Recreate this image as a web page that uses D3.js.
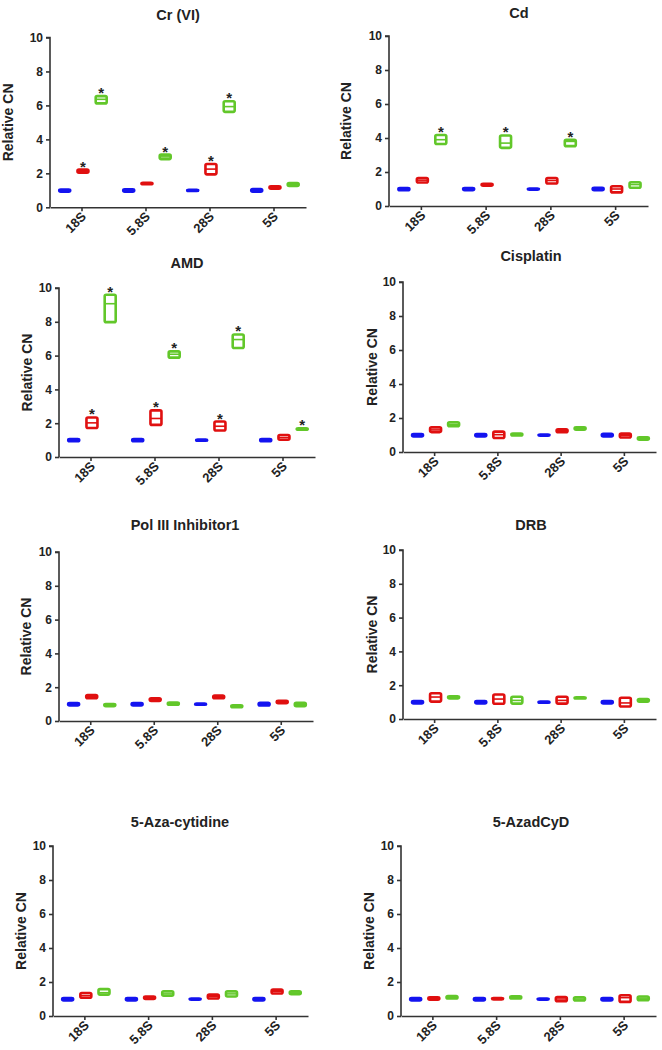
<!DOCTYPE html>
<html><head><meta charset="utf-8">
<script src="https://cdn.jsdelivr.net/npm/d3@7"></script>
<style>body{margin:0;background:#fff}svg{display:block}</style>
</head><body>
<svg id="c" width="662" height="1050"></svg>
<script>
// categories and series
const categories = ["18S", "5.8S", "28S", "5S"];
const series = ["Control", "Low", "High"];
const seriesColors = ["#1414f0", "#e01010", "#62c72a"];
const yTicks = [0, 2, 4, 6, 8, 10];
const titles = ["Cr (VI)", "Cd", "AMD", "Cisplatin", "Pol III Inhibitor1", "DRB", "5-Aza-cytidine", "5-AzadCyD"];

// values: per category, per series [min, median, max]
const crVI = [
  [[0.92, 1.0, 1.05], [2.04, 2.12, 2.22], [6.12, 6.36, 6.55]],
  [[0.92, 1.0, 1.06], [1.36, 1.40, 1.45], [2.84, 2.97, 3.10]],
  [[0.96, 1.0, 1.03], [1.94, 2.25, 2.55], [5.62, 5.93, 6.25]],
  [[0.92, 1.0, 1.08], [1.10, 1.17, 1.24], [1.26, 1.34, 1.43]]
];
const cd = [
  [[0.93, 1.0, 1.05], [1.38, 1.52, 1.65], [3.65, 3.90, 4.18]],
  [[0.93, 1.0, 1.06], [1.20, 1.25, 1.30], [3.42, 3.70, 4.15]],
  [[0.96, 1.0, 1.03], [1.32, 1.50, 1.65], [3.52, 3.80, 3.90]],
  [[0.93, 1.0, 1.07], [0.80, 1.00, 1.16], [1.07, 1.26, 1.40]]
];
const amd = [
  [[0.93, 1.0, 1.06], [1.72, 2.02, 2.34], [7.98, 9.07, 9.60]],
  [[0.93, 1.0, 1.06], [1.90, 2.28, 2.76], [5.88, 6.08, 6.25]],
  [[0.96, 1.0, 1.03], [1.57, 1.82, 2.10], [6.45, 6.95, 7.25]],
  [[0.93, 1.0, 1.06], [1.02, 1.15, 1.30], [1.61, 1.65, 1.70]]
];
const cisplatin = [
  [[0.92, 1.0, 1.06], [1.17, 1.30, 1.45], [1.52, 1.63, 1.75]],
  [[0.92, 1.0, 1.06], [0.82, 1.02, 1.20], [0.97, 1.02, 1.09]],
  [[0.96, 1.0, 1.03], [1.16, 1.25, 1.34], [1.31, 1.38, 1.45]],
  [[0.92, 1.0, 1.07], [0.85, 0.98, 1.08], [0.73, 0.80, 0.87]]
];
const polIII = [
  [[0.92, 1.0, 1.06], [1.35, 1.45, 1.54], [0.88, 0.95, 1.01]],
  [[0.92, 1.0, 1.06], [1.19, 1.28, 1.34], [0.96, 1.02, 1.09]],
  [[0.96, 1.0, 1.03], [1.35, 1.42, 1.50], [0.81, 0.88, 0.93]],
  [[0.92, 1.0, 1.07], [1.06, 1.12, 1.20], [0.87, 0.97, 1.08]]
];
const drb = [
  [[0.92, 1.0, 1.06], [1.03, 1.30, 1.52], [1.22, 1.28, 1.35]],
  [[0.92, 1.0, 1.06], [0.90, 1.18, 1.45], [0.91, 1.10, 1.32]],
  [[0.96, 1.0, 1.03], [0.91, 1.10, 1.32], [1.21, 1.25, 1.29]],
  [[0.92, 1.0, 1.06], [0.74, 0.95, 1.26], [1.03, 1.10, 1.18]]
];
const azaC = [
  [[0.92, 1.0, 1.06], [1.07, 1.20, 1.35], [1.26, 1.37, 1.58]],
  [[0.92, 1.0, 1.06], [1.01, 1.08, 1.15], [1.19, 1.30, 1.45]],
  [[0.96, 1.0, 1.03], [1.03, 1.15, 1.26], [1.15, 1.30, 1.45]],
  [[0.92, 1.0, 1.06], [1.32, 1.45, 1.55], [1.28, 1.36, 1.45]]
];
const azadCyD = [
  [[0.92, 1.0, 1.06], [0.96, 1.02, 1.10], [1.03, 1.10, 1.18]],
  [[0.92, 1.0, 1.06], [0.98, 1.01, 1.05], [1.03, 1.08, 1.16]],
  [[0.96, 1.0, 1.03], [0.87, 1.00, 1.12], [0.91, 1.00, 1.10]],
  [[0.92, 1.0, 1.06], [0.83, 1.08, 1.22], [0.93, 1.05, 1.15]]
];
// significance markers: [categoryIndex, seriesIndex]
const crVIStars = [[0, 1], [0, 2], [1, 2], [2, 1], [2, 2]];
const cdStars = [[0, 2], [1, 2], [2, 2]];
const amdStars = [[0, 1], [0, 2], [1, 1], [1, 2], [2, 1], [2, 2], [3, 2]];
const noStars = [];

const panelData = [crVI, cd, amd, cisplatin, polIII, drb, azaC, azadCyD];
const panelStars = [crVIStars, cdStars, amdStars, noStars, noStars, noStars, noStars, noStars];

// layout (pixel geometry of each panel)
const layout = [
  {x0: 50, x1: 306, yT: 37.5, yB: 207.3, tx: 178, ty: 15, lx: 8},
  {x0: 389, x1: 648, yT: 36, yB: 206, tx: 519, ty: 13, lx: 346},
  {x0: 59, x1: 315, yT: 288, yB: 457, tx: 187, ty: 263, lx: 27},
  {x0: 403, x1: 656, yT: 282, yB: 452, tx: 531, ty: 256, lx: 372},
  {x0: 59, x1: 313, yT: 552, yB: 721, tx: 185, ty: 525, lx: 26},
  {x0: 403, x1: 656, yT: 550, yB: 719, tx: 531, ty: 525, lx: 372},
  {x0: 53, x1: 308, yT: 846, yB: 1016, tx: 180, ty: 822, lx: 21},
  {x0: 401, x1: 656, yT: 846, yB: 1016, tx: 531, ty: 822, lx: 369}
];

const svg = d3.select("#c");
const axisColor = "#333";
const font = "'Liberation Sans', Arial, sans-serif";

panelData.forEach((data, p) => {
  const L = layout[p];
  const g = svg.append("g");
  const x = d3.scaleBand().domain(categories).range([L.x0, L.x1]).padding(0);
  const xs = d3.scalePoint().domain(series).range([x.bandwidth() * 0.23, x.bandwidth() * 0.80]);
  const y = d3.scaleLinear().domain([0, 10]).range([L.yB, L.yT]);

  // title
  g.append("text").attr("x", L.tx).attr("y", L.ty + 5)
    .attr("text-anchor", "middle").attr("font-family", font)
    .attr("font-weight", "bold").attr("font-size", 14.5).attr("fill", "#222")
    .text(titles[p]);

  // y label
  g.append("text")
    .attr("transform", `translate(${L.lx + 5},${(L.yT + L.yB) / 2}) rotate(-90)`)
    .attr("text-anchor", "middle").attr("font-family", font)
    .attr("font-weight", "bold").attr("font-size", 14).attr("fill", "#222")
    .text("Relative CN");

  // y axis
  const ya = g.append("g").attr("transform", `translate(${L.x0},0)`)
    .call(d3.axisLeft(y).tickValues(yTicks).tickSize(4).tickPadding(3).tickFormat(d3.format("d")));
  ya.selectAll("path,line").attr("stroke", axisColor).attr("stroke-width", 1.6);
  ya.select(".domain").attr("d", `M-4,${L.yT}H0V${L.yB}`);
  ya.selectAll("text").attr("font-family", font).attr("font-weight", "bold")
    .attr("font-size", 12).attr("fill", "#222");

  // x axis
  const xa = g.append("g").attr("transform", `translate(0,${L.yB})`)
    .call(d3.axisBottom(x).tickSize(4).tickSizeOuter(0).tickPadding(3));
  xa.selectAll("path,line").attr("stroke", axisColor).attr("stroke-width", 1.6);
  xa.selectAll("text").attr("font-family", font).attr("font-weight", "bold")
    .attr("font-size", 13).attr("fill", "#222")
    .attr("text-anchor", "end").attr("dy", null).attr("y", 0)
    .attr("transform", "translate(5,10) rotate(-45)");

  // boxes
  const bw = 11;
  data.forEach((cat, ci) => {
    cat.forEach((v, si) => {
      const cx = x(categories[ci]) + xs(series[si]);
      const col = seriesColors[si];
      const top = y(v[2]), bot = y(v[0]);
      g.append("rect").attr("x", cx - bw / 2).attr("y", top)
        .attr("width", bw).attr("height", Math.max(0.5, bot - top))
        .attr("rx", 1.5).attr("fill", "#fff").attr("stroke", col).attr("stroke-width", 2.6);
      g.append("line").attr("x1", cx - bw / 2).attr("x2", cx + bw / 2)
        .attr("y1", y(v[1])).attr("y2", y(v[1]))
        .attr("stroke", col).attr("stroke-width", 1.6);
    });
  });

  // stars
  panelStars[p].forEach(([ci, si]) => {
    const cx = x(categories[ci]) + xs(series[si]);
    const v = data[ci][si];
    g.append("text").attr("x", cx).attr("y", y(v[2]) + 2)
      .attr("text-anchor", "middle").attr("font-family", font)
      .attr("font-weight", "bold").attr("font-size", 15).attr("fill", "#222")
      .text("*");
  });
});
</script>
</body></html>
